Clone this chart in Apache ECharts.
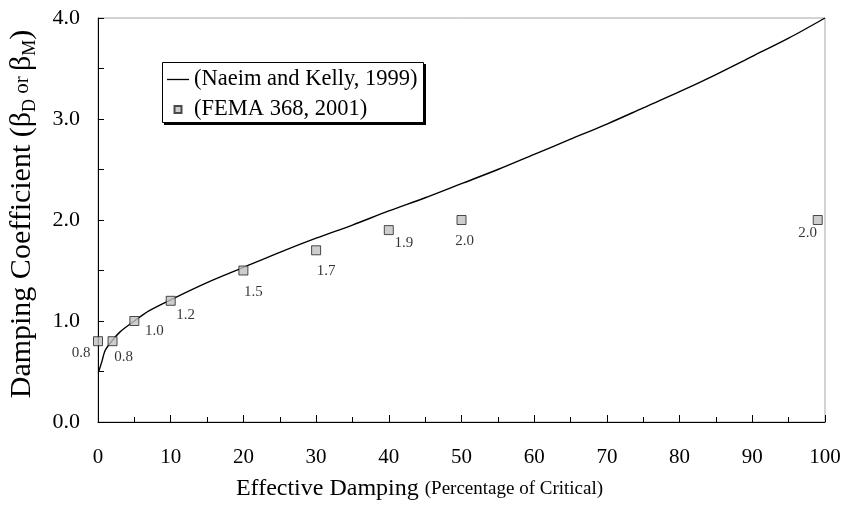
<!DOCTYPE html>
<html>
<head>
<meta charset="utf-8">
<style>
  html, body { margin: 0; padding: 0; background: #fff; }
  #chart { width: 842px; height: 515px; }
</style>
<script src="https://cdn.jsdelivr.net/npm/echarts@6/dist/echarts.min.js"></script>
</head>
<body>
<div id="chart"></div>
<script>
// Naeim and Kelly (1999) damping coefficient curve
const curveDamping = [0.1, 0.5, 1, 2, 3, 5, 7, 10, 15, 20, 25, 30, 35, 40, 45, 50, 55, 60, 65, 70, 75, 80, 85, 90, 95, 100];
const curveCoef = [0.50, 0.59, 0.71, 0.81, 0.89, 1.00, 1.10, 1.21, 1.38, 1.53, 1.68, 1.82, 1.95, 2.09, 2.22, 2.36, 2.50, 2.65, 2.80, 2.95, 3.11, 3.27, 3.44, 3.62, 3.80, 4.00];

// FEMA 368 (2001) tabulated coefficients
const femaDamping = [0, 2, 5, 10, 20, 30, 40, 50, 99];
const femaCoef = [0.8, 0.8, 1.0, 1.2, 1.5, 1.7, 1.9, 2.0, 2.0];

// value label placement next to each square (px from the marker centre)
const femaLabelOffsets = [[-17, 12], [11, 16], [20, 10], [15, 14], [10, 22], [10, 21], [15, 13], [3, 21], [-10, 13]];

const SERIF = '"Liberation Serif", "DejaVu Serif", serif';

const chart = echarts.init(document.getElementById('chart'), null, { renderer: 'canvas' });

const femaData = femaDamping.map((x, i) => ({
  value: [x, femaCoef[i]],
  label: { offset: femaLabelOffsets[i] }
}));

// framed legend box with a solid drop shadow
const LEGEND_BOX = { x: 162, y: 62, width: 262, height: 61 };

chart.setOption({
  animation: false,
  backgroundColor: '#fff',
  textStyle: { fontFamily: SERIF, color: '#000' },
  grid: {
    left: 98, right: 17, top: 18, bottom: 93,
    outerBoundsMode: 'none',
    containLabel: false,
    show: true, borderColor: '#a6a6a6', borderWidth: 1, backgroundColor: 'transparent'
  },
  graphic: [
    {
      type: 'rect', z: 10, silent: true,
      shape: { x: LEGEND_BOX.x + 2, y: LEGEND_BOX.y + 2, width: LEGEND_BOX.width, height: LEGEND_BOX.height },
      style: { fill: '#000' }
    },
    {
      type: 'rect', z: 11, silent: true,
      shape: { x: LEGEND_BOX.x + 0.5, y: LEGEND_BOX.y + 0.5, width: LEGEND_BOX.width - 1, height: LEGEND_BOX.height - 1 },
      style: { fill: '#fff', stroke: '#000', lineWidth: 1 }
    }
  ],
  legend: {
    orient: 'vertical',
    left: LEGEND_BOX.x, top: LEGEND_BOX.y,
    z: 12,
    padding: [6, 5, 3, 5],
    itemGap: 7,
    itemWidth: 22,
    itemHeight: 7,
    textStyle: { fontFamily: SERIF, fontSize: 22.5, color: '#000' },
    data: [
      { name: '(Naeim and Kelly, 1999)', icon: 'path://M0,0H22V1.3H0Z' },
      { name: '(FEMA 368, 2001)', icon: 'path://M0,0H10V10H0Z' }
    ]
  },
  xAxis: {
    type: 'value', min: 0, max: 100, interval: 10,
    name: '{a|Effective Damping }{b|(Percentage of Critical)}',
    nameLocation: 'middle', nameGap: 55,
    nameTextStyle: {
      padding: [0, 84, 0, 0],
      rich: {
        a: { fontFamily: SERIF, fontSize: 24, color: '#000' },
        b: { fontFamily: SERIF, fontSize: 19, color: '#000' }
      }
    },
    axisLine: { onZero: false, lineStyle: { color: '#000', width: 1 } },
    axisTick: { inside: true, length: 7, lineStyle: { color: '#000' } },
    minorTick: { show: true, splitNumber: 2, length: 5, lineStyle: { color: '#000' } },
    splitLine: { show: false },
    axisLabel: { fontFamily: SERIF, fontSize: 21, color: '#000', margin: 25 }
  },
  yAxis: {
    type: 'value', min: 0, max: 4, interval: 1,
    name: '{m|Damping Coefficient (}{m|β}{s|D}{o| or }{m|β}{s|M}{m|)}',
    nameLocation: 'middle', nameGap: 59, nameRotate: 90,
    nameTextStyle: {
      padding: [0, 0, 0, 12],
      rich: {
        m: { fontFamily: SERIF, fontSize: 30, lineHeight: 33, color: '#000' },
        o: { fontFamily: SERIF, fontSize: 21, lineHeight: 33, color: '#000' },
        s: { fontFamily: SERIF, fontSize: 18, lineHeight: 18, verticalAlign: 'bottom', color: '#000' }
      }
    },
    axisLine: { onZero: false, lineStyle: { color: '#000', width: 1 } },
    axisTick: { inside: true, length: 6, lineStyle: { color: '#000' } },
    minorTick: { show: true, splitNumber: 2, length: 6, lineStyle: { color: '#000' } },
    splitLine: { show: false },
    axisLabel: {
      fontFamily: SERIF, fontSize: 22, color: '#000', margin: 18,
      formatter: v => v.toFixed(1)
    }
  },
  series: [
    {
      name: '(Naeim and Kelly, 1999)',
      type: 'line',
      data: curveDamping.map((x, i) => [x, curveCoef[i]]),
      smooth: 0.3,
      symbol: 'none',
      lineStyle: { color: '#000', width: 1.4 },
      itemStyle: { color: '#000' },
      z: 2
    },
    {
      name: '(FEMA 368, 2001)',
      type: 'scatter',
      data: femaData,
      symbol: 'rect',
      symbolSize: 9,
      itemStyle: { color: '#c0c0c0', borderColor: '#222', borderWidth: 1 },
      label: {
        show: true,
        position: 'inside',
        fontFamily: SERIF, fontSize: 15, color: '#000',
        formatter: p => p.value[1].toFixed(1)
      },
      z: 3
    }
  ]
});
</script>
</body>
</html>
